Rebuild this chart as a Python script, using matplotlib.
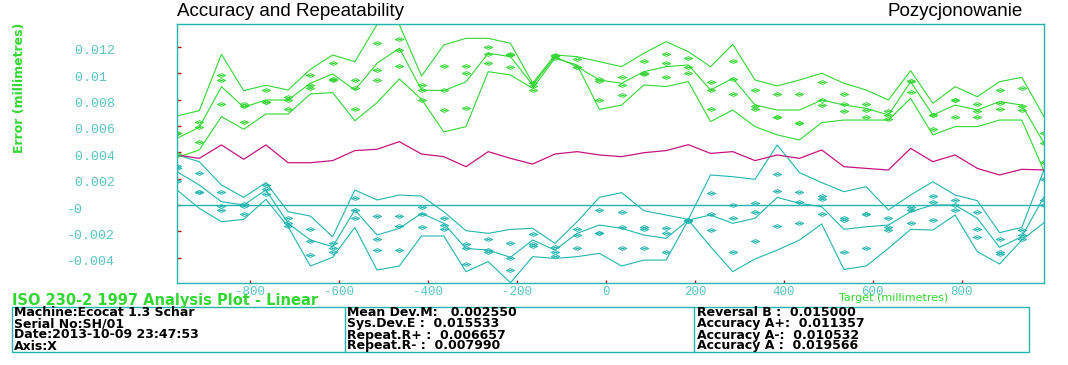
import matplotlib
matplotlib.use("Agg")
import matplotlib.pyplot as plt
import matplotlib.transforms as mtransforms
import numpy as np
from matplotlib.path import Path
from matplotlib.patches import Rectangle
from matplotlib.lines import Line2D

# Target positions (mm)
targets = [-965, -915, -865, -815, -765, -715, -665, -615, -565, -515,
           -465, -415, -365, -315, -265, -215, -165, -115, -65, -15,
           35, 85, 135, 185, 235, 285, 335, 385, 435, 485,
           535, 585, 635, 685, 735, 785, 835, 885, 935, 985]

# Errors in micrometres
# forward direction (green): upper band, mean, lower band
green_hi = [6.76, 7.16, 11.44, 8.68, 9.09, 8.73, 10.30, 11.39, 10.88, 13.7,
            13.7, 9.79, 12.15, 12.65, 12.65, 12.28, 9.24, 11.39, 11.26, 10.88,
            10.50, 11.52, 12.40, 11.64, 10.50, 12.20, 9.49, 9.04, 9.49, 10.00,
            9.24, 8.73, 7.97, 10.20, 7.72, 8.98, 8.22, 9.36, 9.69, 6.71]
green_mid = [5.06, 5.90, 8.98, 7.42, 7.97, 7.97, 9.24, 9.95, 8.73, 10.76,
             11.90, 8.73, 8.68, 9.35, 11.52, 11.26, 9.11, 11.26, 10.50, 9.49,
             9.24, 10.12, 10.50, 10.63, 8.73, 9.62, 7.60, 7.21, 7.21, 7.97,
             7.59, 7.34, 6.83, 9.36, 6.83, 7.59, 7.21, 7.85, 7.59, 4.70]
green_lo = [3.60, 4.18, 6.71, 5.75, 6.91, 6.91, 8.43, 8.53, 6.40, 7.77,
            9.57, 8.03, 5.55, 5.95, 10.12, 9.87, 8.86, 11.14, 10.63, 7.26,
            7.59, 9.11, 8.99, 9.37, 6.33, 7.21, 5.95, 5.32, 4.94, 6.25,
            6.45, 6.45, 6.45, 8.10, 5.32, 5.95, 5.95, 6.45, 6.45, 2.60]

# reverse direction (cyan): upper band, mean, lower band
cyan_hi = [3.80, 3.29, 1.52, 0.58, 1.70, -0.51, -0.84, -2.41, 1.14, 0.38,
           0.76, 0.68, -0.51, -1.95, -2.15, -1.85, -1.77, -2.91, -1.27, 0.58,
           0.94, -0.43, -0.76, -1.09, 2.28, 2.15, 1.95, 4.56, 2.46, 1.70,
           1.01, 1.39, -0.38, 0.76, 1.77, 0.76, 0.33, -2.10, -1.70, 2.66]
cyan_mid = [2.53, 1.52, 0.25, 0.00, 1.14, -1.39, -2.66, -3.16, -0.38, -2.28,
            -1.77, -0.63, -1.39, -3.30, -3.42, -3.97, -2.66, -3.42, -2.15, -1.52,
            -1.77, -2.28, -2.53, -1.14, -0.76, -1.39, -1.01, 0.58, 0.13, -0.13,
            -1.85, -1.65, -1.52, -0.51, 0.00, 0.00, -1.01, -3.21, -2.41, 0.63]
cyan_lo = [1.14, -0.25, -1.27, -1.09, 0.43, -1.65, -4.63, -3.97, -1.70, -4.94,
           -4.63, -2.35, -2.35, -5.06, -4.30, -5.90, -3.92, -4.05, -3.92, -3.67,
           -4.63, -4.18, -4.18, -1.14, -3.16, -5.06, -4.10, -3.42, -2.66, -1.44,
           -4.89, -4.63, -3.29, -1.85, -1.90, -0.76, -3.54, -4.48, -2.66, -1.34]

# bidirectional mean (magenta)
mean_bi = [3.80, 3.54, 4.56, 3.47, 4.56, 3.21, 3.21, 3.37, 4.13, 4.23,
           4.81, 3.87, 3.67, 2.91, 4.05, 3.54, 3.11, 3.87, 4.05, 3.80,
           3.67, 3.97, 4.13, 4.58, 3.92, 4.05, 3.37, 3.80, 3.54, 4.18,
           2.91, 2.78, 2.66, 4.30, 3.29, 3.80, 2.78, 2.28, 2.71, 2.66]

# individual runs (diamonds)
green_runs = [
    [5.5, 6.3, 9.9, 7.7, 8.7, 8.2, 9.9, 10.8, 9.5, 12.3, 12.6, 9.1, 10.55, 10.55, 12.0, 11.5, 9.25, 11.4, 11.05, 9.55,
     9.75, 10.9, 11.5, 11.15, 9.3, 10.95, 8.75, 8.45, 8.45, 9.3, 8.45, 7.65, 7.15, 9.45, 6.85, 7.95, 7.7, 8.75, 8.85, 5.45],
    [5.5, 5.9, 9.5, 7.5, 7.85, 8.0, 9.1, 9.6, 8.9, 10.25, 11.8, 8.7, 8.7, 10.05, 11.5, 11.4, 9.0, 11.3, 10.5, 9.45,
     9.1, 10.05, 10.8, 10.5, 8.75, 9.6, 7.5, 6.7, 6.25, 8.0, 7.7, 7.2, 6.85, 9.45, 6.85, 7.95, 7.1, 7.75, 7.5, 4.7],
    [3.9, 4.8, 7.7, 6.3, 7.85, 7.3, 8.9, 9.5, 7.3, 9.5, 10.55, 8.0, 7.2, 7.4, 10.75, 10.5, 8.75, 11.15, 10.5, 8.0,
     8.35, 9.95, 9.75, 10.0, 7.25, 8.45, 7.25, 6.7, 6.25, 7.6, 7.15, 6.65, 6.5, 8.6, 5.8, 6.65, 6.65, 7.25, 7.2, 3.3],
]
cyan_runs = [
    [2.95, 2.45, 0.95, 0.1, 1.5, -0.95, -1.85, -2.85, 0.5, -0.85, -0.85, -0.15, -1.0, -2.95, -2.6, -2.9, -2.2, -3.2, -1.85, -0.35,
     -0.5, -1.7, -1.75, -1.15, 0.9, 0.0, 0.15, 2.35, 1.0, 0.7, -0.95, -0.7, -0.95, -0.15, 0.7, 0.4, -0.5, -2.6, -1.9, 2.0],
    [2.8, 0.95, -0.1, -0.1, 1.2, -1.4, -2.7, -3.3, -0.4, -2.6, -1.6, -0.7, -1.5, -3.3, -3.4, -4.0, -2.95, -3.55, -2.3, -2.15,
     -1.7, -1.85, -2.1, -1.25, -0.7, -0.95, -0.5, 1.1, 0.25, 0.45, -1.15, -0.7, -1.7, -0.35, 0.25, 0.0, -1.85, -3.55, -2.3, 0.4],
    [1.85, 0.95, -0.4, -0.7, 0.85, -1.6, -3.8, -3.6, -0.95, -3.4, -3.4, -1.7, -1.85, -4.45, -3.55, -4.95, -3.1, -3.9, -3.3, -2.15,
     -3.3, -3.3, -3.55, -1.2, -1.9, -3.55, -2.7, -1.6, -1.4, -0.7, -3.6, -3.3, -1.9, -1.35, -1.1, -0.35, -2.45, -3.7, -2.6, 0.0],
]

y_ticks = [0.012, 0.01, 0.008, 0.006, 0.004, 0.002, 0.0, -0.002, -0.004]
y_ticklabels = [" 0.012", " 0.01", " 0.008", " 0.006", " 0.004", " 0.002", "-0", "-0.002", "-0.004"]
x_ticks = [-800, -600, -400, -200, 0, 200, 400, 600, 800]

info_col1 = ["Machine:Ecocat 1.3 Schar", "Serial No:SH/01", "Date:2013-10-09 23:47:53", "Axis:X"]
info_col2 = ["Mean Dev.M:   0.002550", "Sys.Dev.E :  0.015533", "Repeat.R+ :  0.006657", "Repeat.R- :  0.007990"]
info_col3 = ["Reversal B :  0.015000", "Accuracy A+:  0.011357", "Accuracy A-:  0.010532", "Accuracy A :  0.019566"]

GREEN = "#33d633"
CYAN = "#22b4ae"
MAGENTA = "#c41480"
TICKTXT = "#5cc4c4"
W, H = 1068, 365

x = np.array(targets)
um = 0.001  # micrometre -> millimetre

# flat diamond with a dash through it
diamond = Path([(-1, 0), (0, 0.45), (1, 0), (0, -0.45), (-1, 0), (-0.45, 0), (0.45, 0)],
               [Path.MOVETO, Path.LINETO, Path.LINETO, Path.LINETO, Path.CLOSEPOLY,
                Path.MOVETO, Path.LINETO])

fig = plt.figure(figsize=(W / 100, H / 100), dpi=100)
ax = fig.add_axes([177 / W, 1 - 283 / H, 867 / W, 259 / H])

for band in (green_hi, green_mid, green_lo):
    ax.plot(x, np.array(band) * um, color=GREEN, lw=0.8)
for band in (cyan_hi, cyan_mid, cyan_lo):
    ax.plot(x, np.array(band) * um, color=CYAN, lw=0.8)
ax.plot(x, np.array(mean_bi) * um, color=MAGENTA, lw=0.9)

for run in green_runs:
    ax.plot(x, np.array(run) * um, ls="none", marker=diamond, ms=6, mfc="none",
            mec=GREEN, mew=0.7)
for run in cyan_runs:
    ax.plot(x, np.array(run) * um, ls="none", marker=diamond, ms=6, mfc="none",
            mec=CYAN, mew=0.7)

ax.axhline(0, color=CYAN, lw=1)

ax.set_xlim(targets[0], targets[-1])
ax.set_ylim(-0.00592, 0.01374)
for sp in ax.spines.values():
    sp.set_color(CYAN)
    sp.set_linewidth(1)

ax.set_yticks(y_ticks)
ax.set_yticklabels(y_ticklabels, ha="left", family="Liberation Mono",
                   fontsize=9.5, color=TICKTXT)
ax.tick_params(axis="y", direction="in", length=3, width=1, color="#b01010",
               pad=79)
# labels sit a few pixels below their ticks in the original
shift = mtransforms.ScaledTranslation(0, -3 / 100, fig.dpi_scale_trans)
for lbl in ax.get_yticklabels():
    lbl.set_transform(lbl.get_transform() + shift)

ax.set_xticks(x_ticks)
ax.set_xticklabels([str(v) for v in x_ticks], family="Liberation Mono",
                   fontsize=9, color=TICKTXT)
ax.tick_params(axis="x", direction="in", length=2, width=1, color="#b01010", pad=2)

# titles and labels
fig.text(177 / W, 1 - 11 / H, "Accuracy and Repeatability", ha="left", va="center",
         family="Liberation Sans", fontsize=13.5, color="black")
fig.text(1023 / W, 1 - 11 / H, "Pozycjonowanie", ha="right", va="center",
         family="Liberation Sans", fontsize=13.5, color="black")
fig.text(20 / W, 1 - 88 / H, "Error (millimetres)", rotation=90, ha="center",
         va="center", fontsize=9, fontweight="bold", color=GREEN)
fig.text(948 / W, 1 - 298 / H, "Target (millimetres)", ha="right", va="center",
         fontsize=8, color=GREEN)
fig.text(12 / W, 1 - 301 / H, "ISO 230-2 1997 Analysis Plot - Linear", ha="left",
         va="center", fontsize=10.5, fontweight="bold", color=GREEN)

# info table
box_l, box_r, box_t, box_b = 12, 1029, 307, 352
fig.add_artist(Rectangle((box_l / W, 1 - box_b / H), (box_r - box_l) / W,
                         (box_b - box_t) / H, transform=fig.transFigure,
                         fill=False, ec=CYAN, lw=1))
for xd in (345, 694):
    fig.add_artist(Line2D([xd / W, xd / W], [1 - box_t / H, 1 - box_b / H],
                          transform=fig.transFigure, color=CYAN, lw=1))
row_y = [313, 324, 335, 346]
for col_x, col in zip((14, 347, 697), (info_col1, info_col2, info_col3)):
    for ry, txt in zip(row_y, col):
        fig.text(col_x / W, 1 - ry / H, txt, ha="left", va="center",
                 fontsize=9, fontweight="bold", color="black")

fig.savefig("out.png", dpi=100)
